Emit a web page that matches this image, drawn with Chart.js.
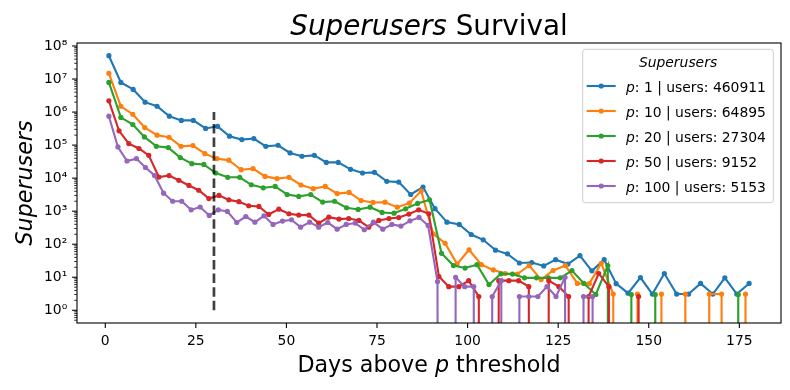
<!DOCTYPE html>
<html>
<head>
<meta charset="utf-8">
<script src="https://cdn.jsdelivr.net/npm/chart.js@4.4.1/dist/chart.umd.min.js"></script>
<style>
  html, body { margin: 0; padding: 0; background: #fff; }
  #wrap { width: 790px; height: 390px; position: relative; }
</style>
</head>
<body>
<div id="wrap"><canvas id="survival"></canvas></div>
<script>
// left edge of each day bin, one grid per threshold p
var daysP1 = [1, 4.3, 7.7, 11, 14.3, 17.7, 21, 24.3, 27.7, 31, 34.3, 37.7, 41, 44.3, 47.7, 51, 54.3, 57.7, 61, 64.3,
  67.7, 71, 74.3, 77.7, 81, 84.3, 87.7, 91, 94.3, 97.7, 101, 104.3, 107.7, 111, 114.3, 117.7, 121, 124.3, 127.7, 131,
  134.3, 137.7, 141, 144.3, 147.7, 151, 154.3, 157.7, 161, 164.3, 167.7, 171, 174.3, 177.7];
var daysP10 = [1, 4.3, 7.6, 10.9, 14.3, 17.6, 20.9, 24.2, 27.5, 30.8, 34.1, 37.5, 40.8, 44.1, 47.4, 50.7, 54, 57.4, 60.7, 64,
  67.3, 70.6, 73.9, 77.2, 80.6, 83.9, 87.2, 90.5, 93.8, 97.1, 100.4, 103.8, 107.1, 110.4, 113.7, 117, 120.3, 123.6, 127, 130.3,
  133.6, 136.9, 140.2, 143.5, 146.9, 150.2, 153.5, 156.8, 160.1, 163.4, 166.7, 170.1, 173.4, 176.7, 180];
var daysP20 = [1, 4.3, 7.6, 10.8, 14.1, 17.4, 20.7, 23.9, 27.2, 30.5, 33.8, 37.1, 40.3, 43.6, 46.9, 50.2, 53.4, 56.7, 60, 63.3,
  66.6, 69.8, 73.1, 76.4, 79.7, 82.9, 86.2, 89.5, 92.8, 96.1, 99.3, 102.6, 105.9, 109.2, 112.4, 115.7, 119, 122.3, 125.6, 128.8,
  132.1, 135.4, 138.7, 141.9, 145.2, 148.5, 151.8, 155.1, 158.3, 161.6, 164.9, 168.2, 171.4, 174.7, 178];
var daysP50 = [1, 3.8, 6.5, 9.3, 12, 14.8, 17.6, 20.3, 23.1, 25.8, 28.6, 31.4, 34.1, 36.9, 39.6, 42.4, 45.1, 47.9, 50.7, 53.4,
  56.2, 58.9, 61.7, 64.5, 67.2, 70, 72.7, 75.5, 78.3, 81, 83.8, 86.5, 89.3, 92.1, 94.8, 97.6, 100.3, 103.1, 105.9, 108.6,
  111.4, 114.1, 116.9, 119.6, 122.4, 125.2, 127.9, 130.7, 133.4, 136.2, 139, 141.7, 144.5, 147.2, 150];
var daysP100 = [1, 3.5, 6, 8.6, 11.1, 13.6, 16.1, 18.6, 21.1, 23.7, 26.2, 28.7, 31.2, 33.7, 36.3, 38.8, 41.3, 43.8, 46.3, 48.9,
  51.4, 53.9, 56.4, 58.9, 61.4, 64, 66.5, 69, 71.5, 74, 76.6, 79.1, 81.6, 84.1, 86.6, 89.1, 91.7, 94.2, 96.7, 99.2,
  101.7, 104.3, 106.8, 109.3, 111.8, 114.3, 116.9, 119.4, 121.9, 124.4, 126.9, 129.4, 132, 134.5, 137];

// superusers still above the threshold
var usersP1 = [5.08e7, 7.9e6, 4.85e6, 2.0e6, 1.5e6, 7.5e5, 5.6e5, 5.6e5, 3.2e5, 3.7e5,
  1.86e5, 1.47e5, 1.58e5, 9.2e4, 9.9e4, 5.8e4, 4.6e4, 4.9e4, 3.0e4, 3.0e4,
  1.85e4, 1.43e4, 1.5e4, 8.0e3, 7.6e3, 3.2e3, 5.4e3, 1190, 466, 396,
  197, 136, 66, 51, 27, 28, 22, 34, 25, 45,
  15.6, 34, 6.4, 3.3, 9.8, 3.1, 13, 3.1, 3.1, 6.5,
  3.1, 9.6, 3.1, 6.5];
var usersP10 = [1.49e7, 1.5e6, 8.6e5, 3.4e5, 2.0e5, 1.73e5, 9.2e4, 9.7e4, 5.5e4, 3.9e4,
  3.5e4, 1.8e4, 1.94e4, 1.13e4, 9.7e3, 1.06e4, 6.2e3, 4.8e3, 5.6e3, 3.4e3,
  3.7e3, 2.1e3, 1.84e3, 1.87e3, 1.32e3, 1.75e3, 4.1e3, 207, 107, 25,
  68, 24, 16.7, 13, 12.5, 22.6, 8.5, 16, 22.6, 6.5,
  6.4, 26.5, 3.1, 0, 3.1, 0, 3.1, 0, 3.1, 0,
  3.1, 3.1, 0, 3.1, 0];
var usersP20 = [7.9e6, 6.9e5, 4.2e5, 1.77e5, 9.2e4, 8.4e4, 4.2e4, 2.75e4, 2.6e4, 1.43e4,
  1.06e4, 1.06e4, 6.3e3, 5.1e3, 5.6e3, 3.2e3, 2.8e3, 3.2e3, 1.88e3, 2.0e3,
  1.27e3, 1.13e3, 1.32e3, 915, 870, 1.18e3, 1.72e3, 2.2e3, 53, 22.6,
  19, 24, 6.0, 12.7, 12.5, 9.6, 9.6, 9.6, 9.6, 16,
  6.5, 3.0, 22.6, 0, 3.0, 0, 3.0, 0, 0, 0,
  0, 0, 0, 3.0, 0];
var usersP50 = [2.19e6, 2.7e5, 1.11e5, 7.9e4, 4.9e4, 1.08e4, 1.2e4, 8.6e3, 6.0e3, 4.3e3,
  2.4e3, 3.0e3, 2.2e3, 1.94e3, 1.46e3, 1.39e3, 795, 1150, 835, 760,
  760, 434, 660, 575, 600, 525, 328, 525, 600, 640,
  820, 1100, 835, 10.5, 5.2, 5.2, 7.9, 2.6, 0, 7.9,
  7.9, 7.9, 5.2, 0, 7.9, 5.2, 2.6, 0, 2.6, 13,
  5.2, 0, 0, 2.6, 0];
var usersP100 = [7.5e5, 8.8e4, 3.3e4, 3.9e4, 2.1e4, 1.2e4, 3.5e3, 2.0e3, 2.0e3, 1.1e3,
  1.33e3, 745, 1100, 980, 455, 690, 466, 725, 397, 500,
  550, 328, 466, 328, 455, 285, 397, 437, 274, 466,
  285, 397, 355, 510, 645, 370, 7.4, 0, 10, 5.2,
  5.2, 0, 2.6, 7.9, 0, 2.6, 2.6, 2.6, 5.2, 2.6,
  10, 0, 2.6, 2.6, 0];

var thresholds = [1, 10, 20, 50, 100];
var totalUsers = [460911, 64895, 27304, 9152, 5153];
var colors = ['#1f77b4', '#ff7f0e', '#2ca02c', '#d62728', '#9467bd'];

var cutoffDay = 30;
var cutoffSpan = [1, 1e6];

var xTicks = [0, 25, 50, 75, 100, 125, 150, 175];
var yPowers = [0, 1, 2, 3, 4, 5, 6, 7, 8];

var FONT = '"DejaVu Sans", sans-serif';
var SUP = '⁰¹²³⁴⁵⁶⁷⁸⁹';

// like matplotlib's log clip: a zero count falls straight off the bottom
function toPoints(days, users) {
  return days.map(function(d, i) {
    return { x: d, y: users[i] > 0 ? users[i] : 1e-300 };
  });
}

var allDays = [daysP1, daysP10, daysP20, daysP50, daysP100];
var allUsers = [usersP1, usersP10, usersP20, usersP50, usersP100];

var datasets = allDays.map(function(days, k) {
  return {
    label: 'p: ' + thresholds[k] + ' | users: ' + totalUsers[k],
    data: toPoints(days, allUsers[k]),
    borderColor: colors[k],
    backgroundColor: colors[k],
    pointBackgroundColor: colors[k],
    pointBorderWidth: 0,
    pointRadius: 2.6,
    borderWidth: 2.1,
    tension: 0,
    order: 5 - k
  };
});
datasets.push({
  label: 'cutoff',
  data: [{ x: cutoffDay, y: cutoffSpan[0] }, { x: cutoffDay, y: cutoffSpan[1] }],
  borderColor: 'rgba(0,0,0,0.75)',
  borderWidth: 2.7,
  borderDash: [9.5, 4.1],
  pointRadius: 0,
  order: -1
});

// draw a line of text made of plain / italic pieces
function drawRuns(ctx, runs, x, y, size, align) {
  var total = 0;
  runs.forEach(function(r) {
    ctx.font = (r.it ? 'italic ' : '') + size + 'px ' + FONT;
    r.w = ctx.measureText(r.t).width;
    total += r.w;
  });
  var cx = align === 'center' ? x - total / 2 : x;
  ctx.textAlign = 'left';
  ctx.textBaseline = 'alphabetic';
  runs.forEach(function(r) {
    ctx.font = (r.it ? 'italic ' : '') + size + 'px ' + FONT;
    ctx.fillText(r.t, cx, y);
    cx += r.w;
  });
}

function seg(ctx, x1, y1, x2, y2) {
  ctx.beginPath();
  ctx.moveTo(x1, y1);
  ctx.lineTo(x2, y2);
  ctx.stroke();
}

var axesDecor = {
  id: 'axesDecor',
  afterDraw: function(chart) {
    var ctx = chart.ctx, a = chart.chartArea;
    var xs = chart.scales.x, ys = chart.scales.y;
    ctx.save();
    ctx.strokeStyle = '#000';
    ctx.fillStyle = '#000';

    // major ticks
    ctx.lineWidth = 1.1;
    xTicks.forEach(function(v) {
      var px = xs.getPixelForValue(v);
      seg(ctx, px, a.bottom, px, a.bottom + 4.9);
    });
    yPowers.forEach(function(p) {
      var py = ys.getPixelForValue(Math.pow(10, p));
      seg(ctx, a.left - 4.9, py, a.left, py);
    });
    // minor ticks
    ctx.lineWidth = 0.8;
    for (var p = -1; p <= 8; p++) {
      for (var m = 2; m <= 9; m++) {
        var v = m * Math.pow(10, p);
        if (v <= ys.min || v >= ys.max) continue;
        var py = ys.getPixelForValue(v);
        seg(ctx, a.left - 2.8, py, a.left, py);
      }
    }
    // frame
    ctx.lineWidth = 1.1;
    ctx.strokeRect(a.left, a.top, a.right - a.left, a.bottom - a.top);

    // title and axis labels
    var mid = (a.left + a.right) / 2;
    drawRuns(ctx, [{ t: 'Superusers', it: true }, { t: ' Survival' }], mid, 34.5, 27.8, 'center');
    drawRuns(ctx, [{ t: 'Days above ' }, { t: 'p', it: true }, { t: ' threshold' }], mid, 371.5, 22.2, 'center');
    ctx.save();
    ctx.translate(32, (a.top + a.bottom) / 2);
    ctx.rotate(-Math.PI / 2);
    drawRuns(ctx, [{ t: 'Superusers', it: true }], 0, 0, 22.2, 'center');
    ctx.restore();

    // legend
    var lx = 582.7, ly = 49.3, lw = 190.6, lh = 153.4, r = 2.8;
    ctx.beginPath();
    ctx.moveTo(lx + r, ly);
    ctx.arcTo(lx + lw, ly, lx + lw, ly + lh, r);
    ctx.arcTo(lx + lw, ly + lh, lx, ly + lh, r);
    ctx.arcTo(lx, ly + lh, lx, ly, r);
    ctx.arcTo(lx, ly, lx + lw, ly, r);
    ctx.closePath();
    ctx.fillStyle = 'rgba(255,255,255,0.8)';
    ctx.fill();
    ctx.strokeStyle = '#cccccc';
    ctx.lineWidth = 1;
    ctx.stroke();

    ctx.fillStyle = '#000';
    drawRuns(ctx, [{ t: 'Superusers', it: true }], lx + lw / 2, 66.7, 13.9, 'center');
    thresholds.forEach(function(th, k) {
      var rowY = 86 + 25 * k;
      ctx.strokeStyle = colors[k];
      ctx.lineWidth = 2.1;
      seg(ctx, 586.7, rowY, 615.7, rowY);
      ctx.fillStyle = colors[k];
      ctx.beginPath();
      ctx.arc(601.2, rowY, 2.6, 0, Math.PI * 2);
      ctx.fill();
      ctx.fillStyle = '#000';
      drawRuns(ctx, [{ t: 'p', it: true }, { t: ': ' + th + ' | users: ' + totalUsers[k] }], 626, rowY + 6.3, 13.9, 'left');
    });
    ctx.restore();
  }
};

new Chart(document.getElementById('survival'), {
  type: 'line',
  data: { datasets: datasets },
  options: {
    responsive: true,
    maintainAspectRatio: false,
    animation: false,
    events: [],
    layout: { padding: { left: 0, top: 43, right: 9, bottom: 0 } },
    plugins: {
      legend: { display: false },
      tooltip: { enabled: false },
      title: { display: false }
    },
    scales: {
      x: {
        type: 'linear',
        min: -7.8,
        max: 186.5,
        bounds: 'data',
        afterBuildTicks: function(s) {
          s.ticks = xTicks.map(function(v) { return { value: v }; });
        },
        afterFit: function(s) { s.height = 67; },
        grid: { display: false, drawTicks: true, tickLength: 4.9 },
        border: { display: false },
        ticks: {
          padding: 4.9,
          color: '#000',
          maxRotation: 0,
          autoSkip: false,
          font: { family: FONT, size: 13.9 },
          callback: function(v) { return String(v); }
        }
      },
      y: {
        type: 'logarithmic',
        min: Math.pow(10, -0.385),
        max: Math.pow(10, 8.091),
        bounds: 'data',
        afterBuildTicks: function(s) {
          s.ticks = yPowers.map(function(p) { return { value: Math.pow(10, p) }; });
        },
        afterFit: function(s) { s.width = 77; },
        grid: { display: false, drawTicks: true, tickLength: 4.9 },
        border: { display: false },
        ticks: {
          padding: 4.9,
          color: '#000',
          autoSkip: false,
          font: { family: FONT, size: 13.9 },
          callback: function(v) {
            var e = Math.round(Math.log10(v));
            return '10' + SUP[e];
          }
        }
      }
    }
  },
  plugins: [axesDecor]
});
</script>
</body>
</html>
